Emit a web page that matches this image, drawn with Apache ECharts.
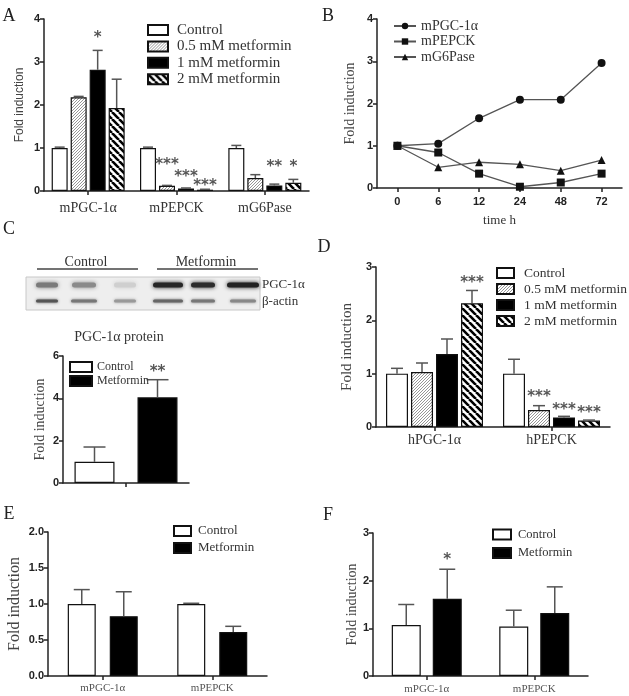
<!DOCTYPE html>
<html><head><meta charset="utf-8">
<script src="https://cdn.jsdelivr.net/npm/echarts@6/dist/echarts.min.js"></script>
<style>html,body{margin:0;padding:0;background:#fff}#c{width:629px;height:696px}</style>
</head><body><div id="c"></div><script>
// ---------------- DATA ----------------
// Panel A
const aCategories = ['mPGC-1α', 'mPEPCK', 'mG6Pase'];
const doseNames = ['Control', '0.5 mM metformin', '1 mM metformin', '2 mM metformin'];
const aValues = [[1.00, 1.00, 1.00], [2.18, 0.12, 0.30], [2.82, 0.06, 0.13], [1.93, 0.03, 0.19]];
const aErrors = [[0.02, 0.02, 0.06], [0.02, 0.01, 0.08], [0.45, 0.01, 0.03], [0.67, 0.01, 0.08]];
const aStars = [[2, 0, '*', 3.63], [1, 1, '***', 0.67], [2, 1, '***', 0.40], [3, 1, '***', 0.18], [2, 2, '**', 0.63], [3, 2, '*', 0.64]];
const aTicks = [0, 1, 2, 3, 4];
// Panel B
const bTimes = ['0', '6', '12', '24', '48', '72'];
const bNames = ['mPGC-1α', 'mPEPCK', 'mG6Pase'];
const bPGC = [1.00, 1.05, 1.65, 2.09, 2.09, 2.96];
const bPEPCK = [1.00, 0.84, 0.34, 0.03, 0.13, 0.34];
const bG6Pase = [1.00, 0.49, 0.61, 0.56, 0.41, 0.66];
const bTicks = [0, 1, 2, 3, 4];
// Panel C
const cNames = ['Control', 'Metformin'];
const cValues = [[1.00], [4.05]];
const cErrors = [[0.70], [0.83]];
const cStars = [[1, 0, '**', 5.38]];
const cTicks = [0, 2, 4, 6];
// Panel D
const dCategories = ['hPGC-1α', 'hPEPCK'];
const dValues = [[1.00, 1.00], [1.03, 0.32], [1.37, 0.18], [2.32, 0.12]];
const dErrors = [[0.10, 0.27], [0.17, 0.08], [0.28, 0.02], [0.24, 0.01]];
const dStars = [[3, 0, '***', 2.76], [1, 1, '***', 0.63], [2, 1, '***', 0.38], [3, 1, '***', 0.32]];
const dTicks = [0, 1, 2, 3];
// Panel E
const eCategories = ['mPGC-1α', 'mPEPCK'];
const eNames = ['Control', 'Metformin'];
const eValues = [[1.00, 1.00], [0.83, 0.61]];
const eErrors = [[0.20, 0.01], [0.34, 0.08]];
const eTicks = [0, 0.5, 1.0, 1.5, 2.0];
// Panel F
const fCategories = ['mPGC-1α', 'mPEPCK'];
const fNames = ['Control', 'Metformin'];
const fValues = [[1.07, 1.04], [1.62, 1.32]];
const fErrors = [[0.43, 0.34], [0.62, 0.55]];
const fStars = [[1, 0, '*', 2.50]];
const fTicks = [0, 1, 2, 3];

// ---------------- STYLE ----------------
const SERIF = '"Liberation Serif", "Times New Roman", serif';
const SANS = '"Liberation Sans", Arial, sans-serif';
const AX = '#222';

function mkPattern(size, draw) {
  const cv = document.createElement('canvas');
  cv.width = size; cv.height = size;
  const ctx = cv.getContext('2d');
  ctx.fillStyle = '#fff'; ctx.fillRect(0, 0, size, size);
  draw(ctx, size);
  return { image: cv, repeat: 'repeat' };
}
const fineHatch = mkPattern(3, (ctx, s) => {
  ctx.strokeStyle = '#8a8a8a'; ctx.lineWidth = 0.9; ctx.beginPath();
  for (let k = -1; k <= 1; k++) { ctx.moveTo(k * s, s); ctx.lineTo(k * s + s, 0); }
  ctx.stroke();
});
const wideHatch = mkPattern(7, (ctx, s) => {
  ctx.strokeStyle = '#000'; ctx.lineWidth = 2.6; ctx.beginPath();
  for (let k = -1; k <= 1; k++) { ctx.moveTo(k * s, 0); ctx.lineTo(k * s + s, s); }
  ctx.stroke();
});
const fillFor = {
  'Control': '#fff', '0.5 mM metformin': fineHatch, '1 mM metformin': '#000',
  '2 mM metformin': wideHatch, 'Metformin': '#000'
};

const grids = [
  { left: 44, top: 19, width: 265, height: 172 },   // A
  { left: 377, top: 19, width: 245, height: 169 },  // B
  { left: 63, top: 356, width: 126, height: 127 },  // C
  { left: 376, top: 267, width: 234, height: 160 }, // D
  { left: 48, top: 532, width: 219, height: 144 },  // E
  { left: 373, top: 533, width: 215, height: 143 }  // F
].map(g => Object.assign({ outerBoundsMode: 'none', containLabel: false }, g));

function yAxis(gi, ticks, nameGap, nameFont, nameSize, decimals) {
  return {
    gridIndex: gi, type: 'value', min: ticks[0], max: ticks[ticks.length - 1], interval: ticks[1] - ticks[0],
    axisLine: { show: true, lineStyle: { color: AX, width: 1.5 } },
    axisTick: { show: true, length: 4, lineStyle: { color: AX, width: 1.5 } },
    splitLine: { show: false },
    axisLabel: { fontFamily: SANS, fontWeight: 'bold', fontSize: 11, color: AX, margin: 4,
      formatter: v => v.toFixed(decimals) },
    name: 'Fold induction', nameLocation: 'middle', nameGap: nameGap,
    nameTextStyle: { fontFamily: nameFont, fontSize: nameSize, color: '#444' }
  };
}
function xAxis(gi, cats, fontSize, margin, color) {
  return {
    gridIndex: gi, type: 'category', data: cats, boundaryGap: true,
    axisLine: { show: true, lineStyle: { color: AX, width: 1.5 } },
    axisTick: { show: true, alignWithLabel: true, length: 4, lineStyle: { color: AX, width: 1.5 } },
    splitLine: { show: false },
    axisLabel: { fontFamily: SERIF, fontSize: fontSize, color: color, margin: margin, interval: 0 }
  };
}

const series = [];
function barPanel(gi, names, values, errors, stars, bw, gapPx, capW, starSize) {
  const n = names.length, step = bw + gapPx;
  names.forEach((nm, i) => {
    series.push({
      type: 'bar', name: nm, xAxisIndex: gi, yAxisIndex: gi, data: values[i],
      barWidth: bw, barGap: (gapPx / bw * 100) + '%',
      itemStyle: { color: fillFor[nm], borderColor: '#111', borderWidth: 1.2 },
      emphasis: { disabled: true }, z: 2
    });
  });
  const errData = [];
  names.forEach((nm, i) => values[i].forEach((v, c) => errData.push([c, v, errors[i][c], i])));
  series.push({
    type: 'custom', name: 'err' + gi, xAxisIndex: gi, yAxisIndex: gi, coordinateSystem: 'cartesian2d',
    encode: { x: 0, y: 1 }, data: errData, z: 3, silent: true,
    renderItem: (p, api) => {
      const c = api.value(0), v = api.value(1), e = api.value(2), s = api.value(3);
      const base = api.coord([c, v]), top = api.coord([c, v + e]);
      const x = base[0] + (s - (n - 1) / 2) * step;
      const st = { stroke: '#555', lineWidth: 1.5 };
      return { type: 'group', children: [
        { type: 'line', shape: { x1: x, y1: base[1], x2: x, y2: top[1] }, style: st },
        { type: 'line', shape: { x1: x - capW / 2, y1: top[1], x2: x + capW / 2, y2: top[1] }, style: st }
      ] };
    }
  });
  if (stars && stars.length) {
    series.push({
      type: 'custom', name: 'star' + gi, xAxisIndex: gi, yAxisIndex: gi, coordinateSystem: 'cartesian2d',
      encode: { x: 0, y: 1 }, data: stars.map(s => [s[1], s[3], s[0]]), z: 4, silent: true,
      renderItem: (p, api) => {
        const c = api.value(0), lv = api.value(1), s = api.value(2);
        const pt = api.coord([c, lv]);
        return { type: 'text', x: pt[0] + (s - (n - 1) / 2) * step, y: pt[1] + starSize * 0.22,
          style: { text: stars[p.dataIndex][2], align: 'center', verticalAlign: 'middle',
            font: 'bold ' + starSize + 'px "DejaVu Sans", sans-serif', fill: '#555' } };
      }
    });
  }
}

// Panel A
barPanel(0, doseNames, aValues, aErrors, aStars, 16, 3, 10, 15);
// Panel B
const bLineStyle = { color: '#555', width: 1.3 };
[[bNames[0], bPGC, 'circle'], [bNames[1], bPEPCK, 'rect'], [bNames[2], bG6Pase, 'triangle']].forEach(([nm, d, sym]) => {
  series.push({ type: 'line', name: nm, xAxisIndex: 1, yAxisIndex: 1, data: d, symbol: sym, symbolSize: 8,
    itemStyle: { color: '#111' }, lineStyle: bLineStyle, emphasis: { disabled: true } });
});
// Panel C
barPanel(2, cNames, cValues, cErrors, cStars, 40, 23, 22, 15);
// Panel D
barPanel(3, doseNames, dValues, dErrors, dStars, 22, 3, 12, 15);
// Panel E
barPanel(4, eNames, eValues, eErrors, [], 28, 14, 16, 15);
// Panel F
barPanel(5, fNames, fValues, fErrors, fStars, 29, 12, 16, 15);

function legend(names, left, top, fs, iw, ih, gap, pad, icon) {
  const l = { data: names, left: left, top: top, orient: 'vertical', itemWidth: iw, itemHeight: ih, itemGap: gap,
    selectedMode: false, padding: 0,
    textStyle: { fontFamily: SERIF, fontSize: fs, color: '#333', padding: [0, 0, 0, pad] } };
  if (icon) l.icon = icon;
  return l;
}

const blotLanes = [47, 84, 125, 168, 203, 243];
const pgcBand = { w: [22, 24, 22, 30, 24, 32], c: ['#7a7a7a', '#8a8a8a', '#cfcfcf', '#262626', '#2c2c2c', '#222'] };
const actBand = { w: [22, 26, 22, 30, 24, 26], c: ['#555', '#777', '#999', '#666', '#777', '#888'] };
const graphic = [];
function txt(x, y, t, font, fill, align) {
  graphic.push({ type: 'text', x: x, y: y, style: { text: t, font: font, fill: fill || '#222', align: align || 'center', verticalAlign: 'middle' } });
}
txt(9, 16, 'A', '18px ' + SERIF); txt(328, 16, 'B', '18px ' + SERIF);
txt(9, 229, 'C', '18px ' + SERIF); txt(324, 247, 'D', '18px ' + SERIF);
txt(9, 514, 'E', '18px ' + SERIF); txt(328, 515, 'F', '18px ' + SERIF);
txt(86, 262, 'Control', '14px ' + SERIF, '#333'); txt(206, 262, 'Metformin', '14px ' + SERIF, '#333');
graphic.push({ type: 'line', shape: { x1: 37, y1: 269, x2: 138, y2: 269 }, style: { stroke: '#444', lineWidth: 1.5 } });
graphic.push({ type: 'line', shape: { x1: 157, y1: 269, x2: 258, y2: 269 }, style: { stroke: '#444', lineWidth: 1.5 } });
graphic.push({ type: 'rect', shape: { x: 26, y: 277, width: 234, height: 33 }, style: { fill: '#eeeeee', stroke: '#c8c8c8', lineWidth: 1 } });
blotLanes.forEach((x, i) => {
  graphic.push({ type: 'rect', shape: { x: x - pgcBand.w[i] / 2, y: 282.5, width: pgcBand.w[i], height: 5, r: 2.5 },
    style: { fill: pgcBand.c[i], shadowBlur: 4, shadowColor: pgcBand.c[i] } });
  graphic.push({ type: 'rect', shape: { x: x - actBand.w[i] / 2, y: 299.5, width: actBand.w[i], height: 3, r: 1.5 },
    style: { fill: actBand.c[i], shadowBlur: 3, shadowColor: actBand.c[i] } });
});
txt(262, 285, 'PGC-1α', '13px ' + SERIF, '#333', 'left');
txt(262, 302, 'β-actin', '13px ' + SERIF, '#333', 'left');
txt(119, 337, 'PGC-1α protein', '14px ' + SERIF, '#333');

const option = {
  animation: false,
  backgroundColor: '#fff',
  grid: grids,
  xAxis: [
    xAxis(0, aCategories, 14, 10, '#333'),
    Object.assign(xAxis(1, bTimes, 11, 8, AX), {
      axisLabel: { fontFamily: SANS, fontWeight: 'bold', fontSize: 11, color: AX, margin: 8, interval: 0 },
      name: 'time h', nameLocation: 'middle', nameGap: 26,
      nameTextStyle: { fontFamily: SERIF, fontSize: 13, color: '#333' } }),
    xAxis(2, [''], 12, 8, '#333'),
    xAxis(3, dCategories, 14, 6, '#333'),
    xAxis(4, eCategories, 11, 7, '#555'),
    xAxis(5, fCategories, 11, 8, '#555')
  ],
  yAxis: [
    yAxis(0, aTicks, 18, SANS, 12, 0),
    yAxis(1, bTicks, 20, SERIF, 14, 0),
    yAxis(2, cTicks, 16, SERIF, 14, 0),
    yAxis(3, dTicks, 21, SERIF, 15, 0),
    yAxis(4, eTicks, 25, SERIF, 16, 1),
    yAxis(5, fTicks, 14, SERIF, 14, 0)
  ],
  legend: [
    legend(doseNames, 147, 22.5, 15, 20, 10, 1.4, 4, 'rect'),
    legend(bNames, 393, 19, 14, 22, 8, 1.5, 0),
    legend(cNames, 69, 361, 12, 22, 10, 2, 0, 'rect'),
    legend(doseNames, 496, 266, 13.5, 17, 10, 2, 5, 'rect'),
    legend(eNames, 173, 524.5, 13, 17, 10, 4, 2, 'rect'),
    legend(fNames, 492, 528, 12.5, 18, 10, 5.5, 2, 'rect')
  ],
  graphic: graphic,
  series: series
};
const chart = echarts.init(document.getElementById('c'), null, { renderer: 'canvas' });
chart.setOption(option);
</script></body></html>
